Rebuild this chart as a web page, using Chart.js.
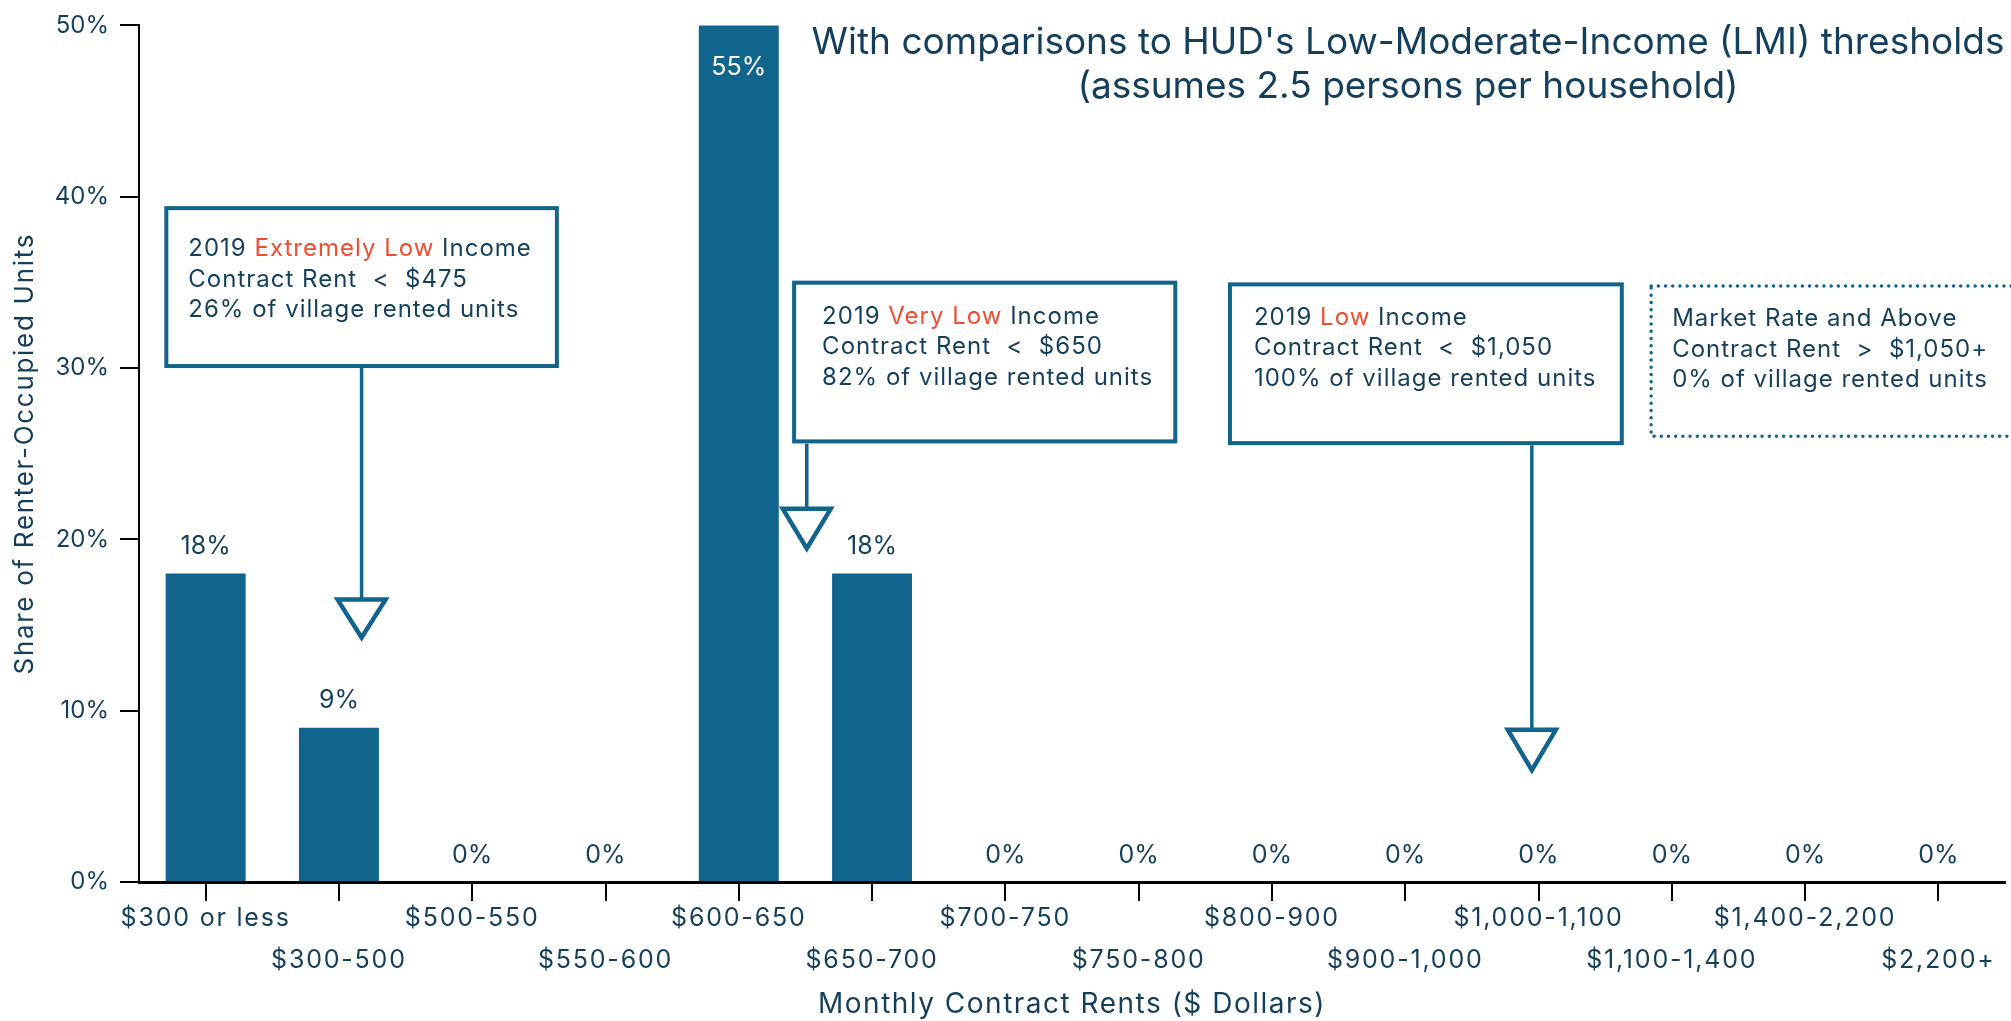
<!DOCTYPE html>
<html>
<head>
<meta charset="utf-8">
<script src="https://cdn.jsdelivr.net/npm/chart.js@4.4.1/dist/chart.umd.min.js"></script>
<style>
  html, body { margin: 0; padding: 0; background: #ffffff; }
  #wrap { width: 2011px; height: 1021px; position: relative; }
  canvas { display: block; }
</style>
</head>
<body>
<div id="wrap"><canvas id="rentChart" width="2011" height="1021"></canvas></div>
<script>
// Rent bands (x axis) and share of renter-occupied units in each band (%)
const categories = ['$300 or less', '$300-500', '$500-550', '$550-600', '$600-650', '$650-700',
  '$700-750', '$750-800', '$800-900', '$900-1,000', '$1,000-1,100', '$1,100-1,400',
  '$1,400-2,200', '$2,200+'];
const shares = [18, 9, 0, 0, 55, 18, 0, 0, 0, 0, 0, 0, 0, 0];
const yTickValues = [0, 10, 20, 30, 40, 50];
const titleLines = ["With comparisons to HUD's Low-Moderate-Income (LMI) thresholds",
  '(assumes 2.5 persons per household)'];
const yAxisTitle = 'Share of Renter-Occupied Units';
const xAxisTitle = 'Monthly Contract Rents ($ Dollars)';

const NAVY = '#143F5C';
const BLUE = '#11648B';
const RED = '#EF4E2E';
const FONT = 'Inter, "Open Sans", sans-serif';

// Income threshold call-outs. x in category units, y in percent units.
const callouts = [
  { x0: -0.31, x1: 2.65, yTop: 39.45, yBottom: 30.0, padX: 24, firstLine: 43, dotted: false,
    arrow: { x: 1.17, top: 16.6, tip: 14.1 },
    lines: [[['2019 ', NAVY], ['Extremely Low', RED], [' Income', NAVY]],
            [['Contract Rent  <  $475', NAVY]],
            [['26% of village rented units', NAVY]]] },
  { x0: 4.40, x1: 7.29, yTop: 35.1, yBottom: 25.6, padX: 30, firstLine: 36, dotted: false,
    arrow: { x: 4.51, top: 21.9, tip: 19.3 },
    lines: [[['2019 ', NAVY], ['Very Low', RED], [' Income', NAVY]],
            [['Contract Rent  <  $650', NAVY]],
            [['82% of village rented units', NAVY]]] },
  { x0: 7.67, x1: 10.64, yTop: 35.0, yBottom: 25.5, padX: 26, firstLine: 35, dotted: false,
    arrow: { x: 9.95, top: 9.0, tip: 6.35 },
    lines: [[['2019 ', NAVY], ['Low', RED], [' Income', NAVY]],
            [['Contract Rent  <  $1,050', NAVY]],
            [['100% of village rented units', NAVY]]] },
  { x0: 10.83, x1: 13.9, yTop: 34.9, yBottom: 25.9, padX: 23, firstLine: 35, dotted: true,
    arrow: null,
    lines: [[['Market Rate and Above', NAVY]],
            [['Contract Rent  >  $1,050+', NAVY]],
            [['0% of village rented units', NAVY]]] }
];

const calloutPlugin = {
  id: 'calloutPlugin',
  afterDatasetsDraw(chart) {
    const { ctx, scales: { x, y } } = chart;
    ctx.save();
    callouts.forEach(c => {
      const left = x.getPixelForValue(c.x0);
      const right = x.getPixelForValue(c.x1);
      const top = y.getPixelForValue(c.yTop);
      const bottom = y.getPixelForValue(c.yBottom);
      // stem + hollow arrow head
      if (c.arrow) {
        const ax = x.getPixelForValue(c.arrow.x);
        const triTop = y.getPixelForValue(c.arrow.top) + 2;
        const tip = y.getPixelForValue(c.arrow.tip) - 3;
        ctx.strokeStyle = BLUE;
        ctx.lineWidth = 3.5;
        ctx.setLineDash([]);
        ctx.beginPath();
        ctx.moveTo(ax, bottom);
        ctx.lineTo(ax, triTop);
        ctx.stroke();
        ctx.beginPath();
        ctx.moveTo(ax - 24, triTop);
        ctx.lineTo(ax + 24, triTop);
        ctx.lineTo(ax, tip);
        ctx.closePath();
        ctx.fillStyle = '#ffffff';
        ctx.fill();
        ctx.lineWidth = 4.5;
        ctx.lineJoin = 'miter';
        ctx.stroke();
      }
      // box
      ctx.fillStyle = '#ffffff';
      ctx.fillRect(left, top, right - left, bottom - top);
      ctx.strokeStyle = BLUE;
      if (c.dotted) {
        ctx.lineWidth = 3.5;
        ctx.lineCap = 'round';
        ctx.setLineDash([0, 7.2]);
      } else {
        ctx.lineWidth = 4;
        ctx.lineCap = 'butt';
        ctx.setLineDash([]);
      }
      ctx.strokeRect(left + 2, top + 2, right - left - 4, bottom - top - 4);
      ctx.setLineDash([]);
      ctx.lineCap = 'butt';
      // text
      ctx.font = `24px ${FONT}`;
      ctx.letterSpacing = '1px';
      ctx.textAlign = 'left';
      ctx.textBaseline = 'middle';
      c.lines.forEach((segs, i) => {
        let tx = left + c.padX;
        const ty = top + c.firstLine + i * 30.5;
        segs.forEach(([t, col]) => {
          ctx.fillStyle = col;
          ctx.fillText(t, tx, ty);
          tx += ctx.measureText(t).width;
        });
      });
    });
    ctx.restore();
  }
};

const valueLabelPlugin = {
  id: 'valueLabelPlugin',
  afterDatasetsDraw(chart) {
    const { ctx, chartArea, scales: { y } } = chart;
    const meta = chart.getDatasetMeta(0);
    ctx.save();
    ctx.font = `25px ${FONT}`;
    ctx.textAlign = 'center';
    ctx.textBaseline = 'middle';
    meta.data.forEach((bar, i) => {
      const v = shares[i];
      const label = v + '%';
      if (v > y.max) {
        ctx.fillStyle = '#ffffff';
        ctx.fillText(label, bar.x, chartArea.top + 42);
      } else {
        ctx.fillStyle = NAVY;
        ctx.fillText(label, bar.x, y.getPixelForValue(v) - 27);
      }
    });
    ctx.restore();
  }
};

const titlePlugin = {
  id: 'titlePlugin',
  afterDraw(chart) {
    const { ctx } = chart;
    ctx.save();
    ctx.font = `37px ${FONT}`;
    ctx.fillStyle = NAVY;
    ctx.textAlign = 'center';
    ctx.textBaseline = 'middle';
    titleLines.forEach((t, i) => ctx.fillText(t, 1408, 43 + i * 44));
    ctx.restore();
  }
};

// Slightly wider letter spacing for axis labels and titles
const axisSpacing = { x: { labels: '1.8px', title: '1.5px' }, y: { labels: '0px', title: '1.7px' } };
const axisSpacingPlugin = {
  id: 'axisSpacingPlugin',
  beforeDraw(chart) {
    Object.keys(axisSpacing).forEach(id => {
      const sc = chart.scales[id];
      if (!sc || sc._spaced) return;
      sc._spaced = true;
      const s = axisSpacing[id];
      const drawLabels = sc.drawLabels;
      const drawTitle = sc.drawTitle;
      sc.drawLabels = function (area) {
        const c = this.ctx; c.save(); c.letterSpacing = s.labels;
        drawLabels.call(this, area); c.restore();
      };
      sc.drawTitle = function () {
        const c = this.ctx; c.save(); c.letterSpacing = s.title;
        drawTitle.call(this); c.restore();
      };
    });
  }
};

new Chart(document.getElementById('rentChart'), {
  type: 'bar',
  data: {
    labels: categories,
    datasets: [{
      data: shares,
      backgroundColor: BLUE,
      borderWidth: 0,
      barPercentage: 0.6,
      categoryPercentage: 1.0
    }]
  },
  options: {
    responsive: false,
    animation: false,
    devicePixelRatio: 1,
    layout: { padding: { top: 24, right: 6, left: 0, bottom: 0 } },
    plugins: {
      legend: { display: false },
      title: { display: false },
      tooltip: { enabled: false }
    },
    scales: {
      x: {
        offset: true,
        afterFit(scale) { scale.height = 139; },
        grid: { display: true, offset: false, drawOnChartArea: false, drawTicks: true,
                tickLength: 19, color: '#000000', lineWidth: 2 },
        border: { display: true, color: '#000000', width: 3 },
        ticks: {
          autoSkip: false, maxRotation: 0, minRotation: 0, padding: -4,
          color: NAVY, font: { family: FONT, size: 25, lineHeight: '42px' },
          callback: (v, i) => (i % 2 ? ['', categories[i]] : categories[i])
        },
        title: { display: true, text: xAxisTitle, color: NAVY,
                 font: { family: FONT, size: 28, lineHeight: 1.2 },
                 padding: { top: 0, bottom: 0 } }
      },
      y: {
        min: 0, max: 50,
        afterFit(scale) { scale.width = 139; },
        afterBuildTicks(scale) { scale.ticks = yTickValues.map(v => ({ value: v })); },
        grid: { display: true, drawOnChartArea: false, drawTicks: true,
                tickLength: 19, color: '#000000', lineWidth: 2 },
        border: { display: true, color: '#000000', width: 2 },
        ticks: { padding: 11, color: NAVY, font: { family: FONT, size: 24 },
                 callback: v => v + '%' },
        title: { display: true, text: yAxisTitle, color: NAVY,
                 font: { family: FONT, size: 26, lineHeight: 1.2 },
                 padding: { top: 10, bottom: 0 } }
      }
    }
  },
  plugins: [axisSpacingPlugin, valueLabelPlugin, calloutPlugin, titlePlugin]
});
</script>
</body>
</html>
